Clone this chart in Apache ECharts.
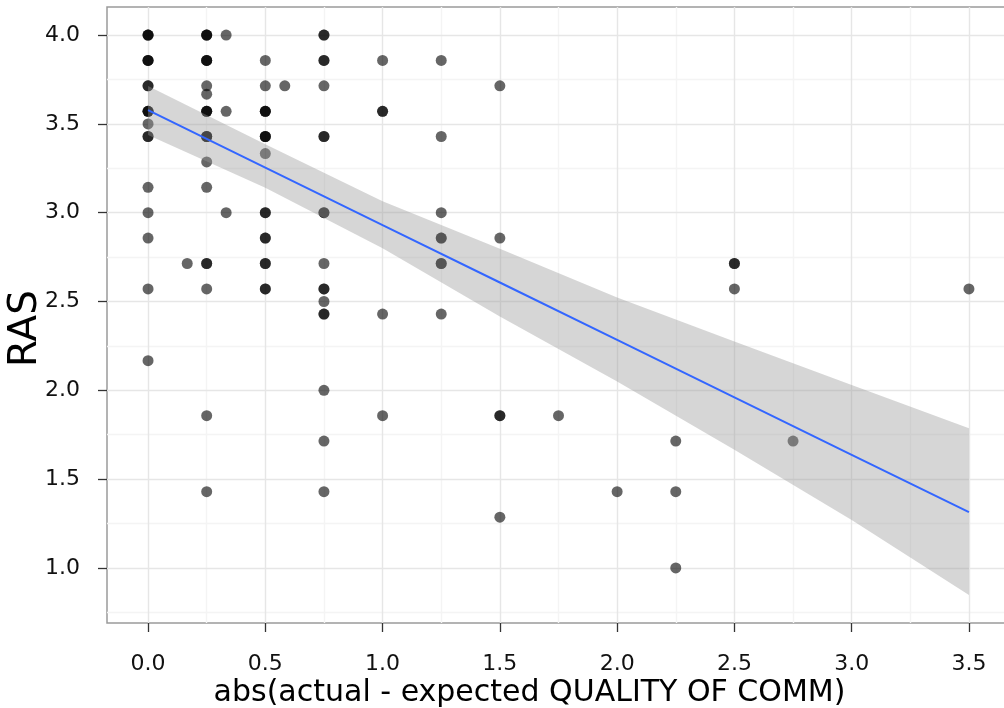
<!DOCTYPE html>
<html>
<head>
<meta charset="utf-8">
<script src="https://cdn.jsdelivr.net/npm/echarts@6/dist/echarts.min.js"></script>
<style>
  html, body { margin: 0; padding: 0; background: #ffffff; }
  #chart { width: 1004px; height: 708px; }
</style>
</head>
<body>
<div id="chart"></div>
<script>
// Observations: x = |actual - expected quality of communication|, y = RAS score.
// ptN is how many observations sit on the same spot (they overplot and darken).
const ptX = [
  0, 0, 0, 0, 0, 0, 0, 0, 0, 0, 0,
  0.167,
  0.25, 0.25, 0.25, 0.25, 0.25, 0.25, 0.25, 0.25, 0.25, 0.25, 0.25, 0.25,
  0.333, 0.333, 0.333,
  0.5, 0.5, 0.5, 0.5, 0.5, 0.5, 0.5, 0.5, 0.5,
  0.583,
  0.75, 0.75, 0.75, 0.75, 0.75, 0.75, 0.75, 0.75, 0.75, 0.75, 0.75, 0.75,
  1.0, 1.0, 1.0, 1.0,
  1.25, 1.25, 1.25, 1.25, 1.25, 1.25,
  1.5, 1.5, 1.5, 1.5,
  1.75,
  2.0,
  2.25, 2.25, 2.25,
  2.5, 2.5,
  2.75,
  3.5
];
const ptY = [
  4.0, 3.857, 3.714, 3.571, 3.5, 3.429, 3.143, 3.0, 2.857, 2.571, 2.167,
  2.714,
  4.0, 3.857, 3.714, 3.667, 3.571, 3.429, 3.286, 3.143, 2.714, 2.571, 1.857, 1.429,
  4.0, 3.571, 3.0,
  3.857, 3.714, 3.571, 3.429, 3.333, 3.0, 2.857, 2.714, 2.571,
  3.714,
  4.0, 3.857, 3.714, 3.429, 3.0, 2.714, 2.571, 2.5, 2.429, 2.0, 1.714, 1.429,
  3.857, 3.571, 2.429, 1.857,
  3.857, 3.429, 3.0, 2.857, 2.714, 2.429,
  3.714, 2.857, 1.857, 1.286,
  1.857,
  1.429,
  1.714, 1.429, 1.0,
  2.714, 2.571,
  1.714,
  2.571
];
const ptN = [
  3, 3, 2, 3, 1, 2, 1, 1, 1, 1, 1,
  1,
  3, 3, 1, 1, 3, 3, 1, 1, 2, 1, 1, 1,
  1, 1, 1,
  1, 1, 3, 3, 1, 2, 2, 2, 2,
  1,
  2, 2, 1, 2, 2, 1, 2, 1, 2, 1, 1, 1,
  1, 2, 1, 1,
  1, 1, 1, 2, 2, 1,
  1, 1, 2, 1,
  1,
  1,
  1, 1, 1,
  2, 1,
  1,
  1
];

// Linear fit with its 95% confidence band.
const fitX     = [0,     0.5,   1.0,   1.5,   2.0,   2.5,   3.0,   3.5];
const fitY     = [3.577, 3.254, 2.930, 2.607, 2.284, 1.960, 1.637, 1.314];
const bandLow  = [3.437, 3.140, 2.800, 2.415, 2.050, 1.665, 1.270, 0.848];
const bandHigh = [3.713, 3.385, 3.065, 2.797, 2.522, 2.275, 2.030, 1.786];

// Axis ticks and grid lines.
const xTicks = [0, 0.5, 1.0, 1.5, 2.0, 2.5, 3.0, 3.5];
const xMinor = [0.25, 0.75, 1.25, 1.75, 2.25, 2.75, 3.25];
const yTicks = [1.0, 1.5, 2.0, 2.5, 3.0, 3.5, 4.0];
const yMinor = [0.75, 1.25, 1.75, 2.25, 2.75, 3.25, 3.75];

const FONT = 'DejaVu Sans, Liberation Sans, sans-serif';

// Expand overplotted observations into individual points.
const points = [];
ptX.forEach(function (x, i) {
  for (let k = 0; k < ptN[i]; k++) points.push([x, ptY[i]]);
});

const bandRows = fitX.map(function (x, i) { return [x, bandLow[i], bandHigh[i]]; });

function gridLines(list, axisKey, color) {
  return list.map(function (v) {
    const d = {}; d[axisKey] = v;
    d.lineStyle = { color: color, width: 1.4, type: 'solid' };
    return d;
  });
}

// Confidence band: one polygon, upper edge left-to-right then lower edge back.
function renderBand(params, api) {
  if (params.dataIndexInside !== 0) return null;
  const n = params.dataInsideLength;
  const upper = [], lower = [];
  for (let i = 0; i < n; i++) {
    const x = api.value(0, i);
    upper.push(api.coord([x, api.value(2, i)]));
    lower.push(api.coord([x, api.value(1, i)]));
  }
  return {
    type: 'polygon',
    shape: { points: upper.concat(lower.reverse()) },
    style: { fill: 'rgba(153,153,153,0.4)' },
    silent: true
  };
}

const chart = echarts.init(document.getElementById('chart'), null, { renderer: 'canvas' });

chart.setOption({
  animation: false,
  backgroundColor: '#ffffff',
  grid: {
    left: 107, right: -6, top: 7, bottom: 85,
    containLabel: false, outerBoundsMode: 'none',
    show: true, borderColor: '#9a9a9a', borderWidth: 1.5, backgroundColor: 'transparent'
  },
  xAxis: {
    type: 'value', min: -0.175, max: 3.675,
    name: 'abs(actual - expected QUALITY OF COMM)',
    nameLocation: 'middle', nameGap: 55, nameMoveOverlap: false,
    nameTextStyle: { fontFamily: FONT, fontSize: 30, color: '#000', padding: [0, 58, 0, 0] },
    axisLine: { show: false, onZero: false },
    splitLine: { show: false },
    axisTick: { show: true, length: 9, customValues: xTicks, lineStyle: { color: '#333', width: 1.3 } },
    axisLabel: {
      customValues: xTicks, margin: 30,
      fontFamily: FONT, fontSize: 22, color: '#111',
      formatter: function (v) { return v.toFixed(1); }
    }
  },
  yAxis: {
    type: 'value', min: 0.69, max: 4.158,
    name: 'RAS',
    nameLocation: 'middle', nameGap: 62, nameRotate: 90, nameMoveOverlap: false,
    nameTextStyle: { fontFamily: FONT, fontSize: 39, color: '#000', padding: [0, 27, 0, 0] },
    axisLine: { show: false, onZero: false },
    splitLine: { show: false },
    axisTick: { show: true, length: 9, customValues: yTicks, lineStyle: { color: '#333', width: 1.3 } },
    axisLabel: {
      customValues: yTicks, margin: 27,
      fontFamily: FONT, fontSize: 22, color: '#111',
      formatter: function (v) { return v.toFixed(1); }
    }
  },
  series: [
    {
      name: 'grid', type: 'scatter', data: [], silent: true, z: 0,
      markLine: {
        silent: true, symbol: 'none', label: { show: false }, animation: false, z: 0,
        data: []
          .concat(gridLines(xMinor, 'xAxis', '#f4f4f4'))
          .concat(gridLines(yMinor, 'yAxis', '#f4f4f4'))
          .concat(gridLines(xTicks, 'xAxis', '#e6e6e6'))
          .concat(gridLines(yTicks, 'yAxis', '#e6e6e6'))
      }
    },
    {
      name: 'RAS', type: 'scatter', z: 2,
      data: points, symbolSize: 11,
      itemStyle: { color: '#000000', opacity: 0.6 }
    },
    {
      name: 'band', type: 'custom', z: 3,
      data: bandRows, renderItem: renderBand, silent: true,
      encode: { x: 0, y: [1, 2] }
    },
    {
      name: 'fit', type: 'line', z: 4,
      data: fitX.map(function (x, i) { return [x, fitY[i]]; }),
      symbol: 'none', lineStyle: { color: '#3366FF', width: 2 }, silent: true
    }
  ]
});
</script>
</body>
</html>
